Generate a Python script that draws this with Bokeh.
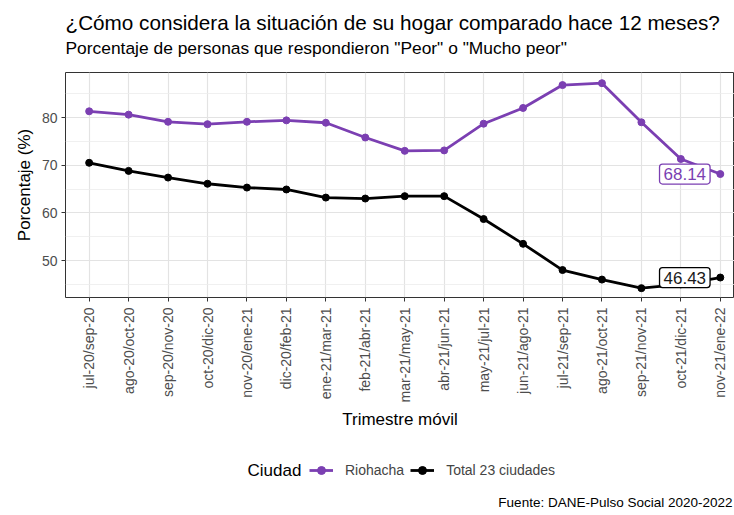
from bokeh.plotting import figure
from bokeh.models import (Label, Legend, LegendItem, FixedTicker, Range1d,
                          ColumnDataSource)
from bokeh.layouts import column
from bokeh.embed import file_html
from bokeh.resources import INLINE
import math

categorias = ["jul-20/sep-20", "ago-20/oct-20", "sep-20/nov-20", "oct-20/dic-20",
              "nov-20/ene-21", "dic-20/feb-21", "ene-21/mar-21", "feb-21/abr-21",
              "mar-21/may-21", "abr-21/jun-21", "may-21/jul-21", "jun-21/ago-21",
              "jul-21/sep-21", "ago-21/oct-21", "sep-21/nov-21", "oct-21/dic-21",
              "nov-21/ene-22"]
riohacha = [81.3, 80.6, 79.1, 78.6, 79.1, 79.4, 78.9, 75.8, 73.0, 73.1,
            78.7, 82.0, 86.8, 87.2, 79.0, 71.3, 68.14]
total23 = [70.5, 68.8, 67.4, 66.1, 65.3, 64.9, 63.2, 63.0, 63.5, 63.5,
           58.7, 53.5, 48.0, 46.0, 44.2, 45.0, 46.43]
series = ["Riohacha", "Total 23 ciudades"]
y_ticks = [50, 60, 70, 80]
y_minor = [45, 55, 65, 75, 85]

PURPLE = "#7B3FB2"
BLACK = "#000000"
FONT = "Liberation Sans"

xs = list(range(len(categorias)))


def strip(h):
    f = figure(width=734, height=h, output_backend="svg", toolbar_location=None,
               x_range=Range1d(65, 734), y_range=Range1d(0, h),
               x_axis_type=None, y_axis_type=None, min_border=0,
               min_border_left=65)
    f.outline_line_color = None
    f.background_fill_color = "white"
    f.border_fill_color = "white"
    return f


# top strip: title + subtitle
top = strip(60)
top.add_layout(Label(x=65, y=38, text="¿Cómo considera la situación de su hogar comparado hace 12 meses?",
                     text_font=FONT, text_font_size="20.7px", text_baseline="middle",
                     text_color="#000000"))
top.add_layout(Label(x=65, y=13, text='Porcentaje de personas que respondieron "Peor" o "Mucho peor"',
                     text_font=FONT, text_font_size="17.4px", text_baseline="middle",
                     text_color="#000000"))

# main plot
p = figure(width=734, height=385, output_backend="svg", toolbar_location=None,
           x_range=Range1d(-0.6, 16.36), y_range=Range1d(42.24, 89.44),
           min_border_left=65, min_border_right=0, min_border_top=12,
           min_border_bottom=148, title=None)
p.background_fill_color = "white"
p.border_fill_color = "white"
p.outline_line_color = "#333333"
p.outline_line_width = 1

p.xgrid.ticker = FixedTicker(ticks=xs)
p.xgrid.grid_line_color = "#E3E3E3"
p.xgrid.grid_line_width = 1.2
p.ygrid.ticker = FixedTicker(ticks=y_ticks, minor_ticks=y_minor)
p.ygrid.grid_line_color = "#E3E3E3"
p.ygrid.grid_line_width = 1.2
p.ygrid.minor_grid_line_color = "#ECECEC"
p.ygrid.minor_grid_line_width = 0.8

p.xaxis.ticker = FixedTicker(ticks=xs)
p.xaxis.major_label_overrides = {i: c for i, c in enumerate(categorias)}
p.xaxis.major_label_orientation = math.pi / 2
p.yaxis.ticker = FixedTicker(ticks=y_ticks, minor_ticks=[])
for ax in (p.xaxis, p.yaxis):
    ax.axis_line_color = None
    ax.major_tick_line_color = "#333333"
    ax.major_tick_out = 4
    ax.major_tick_in = 0
    ax.minor_tick_line_color = None
    ax.major_label_text_color = "#4D4D4D"
    ax.major_label_text_font = FONT
    ax.major_label_text_font_size = "14px"
    ax.axis_label_text_font = FONT
    ax.axis_label_text_font_style = "normal"
    ax.axis_label_text_color = "#000000"
    ax.axis_label_text_font_size = "17px"
p.xaxis.major_label_standoff = 6
p.yaxis.major_label_standoff = 4
p.xaxis.axis_label = "Trimestre móvil"
p.yaxis.axis_label = "Porcentaje (%)"
p.xaxis.axis_label_standoff = 5
p.yaxis.axis_label_standoff = 5

src_r = ColumnDataSource(dict(x=xs, y=riohacha))
src_t = ColumnDataSource(dict(x=xs, y=total23))
p.line("x", "y", source=src_r, line_color=PURPLE, line_width=2.8)
p.scatter("x", "y", source=src_r, size=7, color=PURPLE)
p.line("x", "y", source=src_t, line_color=BLACK, line_width=2.8)
p.scatter("x", "y", source=src_t, size=7, color=BLACK)

for val, col in ((riohacha[-1], PURPLE), (total23[-1], BLACK)):
    p.add_layout(Label(x=xs[-1] - 0.9, y=val, text=f"{val:.2f}",
                       text_align="center", text_baseline="middle",
                       text_font=FONT, text_font_size="17px",
                       text_color=col if col != BLACK else "#1A1A1A",
                       background_fill_color="white", border_line_color=col,
                       border_line_width=1.3, padding=4, border_radius=3))

# bottom strip: legend + caption
q = strip(70)
# legend proxies share the series sources; their points fall outside this strip's ranges
lr = q.line("x", "y", source=src_r, line_color=PURPLE, line_width=2.8)
sr = q.scatter("x", "y", source=src_r, size=7, color=PURPLE)
lt = q.line("x", "y", source=src_t, line_color=BLACK, line_width=2.8)
st = q.scatter("x", "y", source=src_t, size=7, color=BLACK)
legend = Legend(items=[LegendItem(label=series[0], renderers=[lr, sr]),
                       LegendItem(label=series[1], renderers=[lt, st])],
                orientation="horizontal", location=(244, 35),
                background_fill_alpha=0, border_line_color=None,
                label_text_font=FONT, label_text_font_size="14px",
                glyph_width=24, glyph_height=20, label_standoff=12, spacing=6,
                padding=0, margin=0, label_height=20)
q.add_layout(legend, "center")
q.add_layout(Label(x=247, y=45, text="Ciudad", text_font=FONT,
                   text_font_size="17px", text_baseline="middle",
                   text_color="#000000"))
q.add_layout(Label(x=732, y=13, text="Fuente: DANE-Pulso Social 2020-2022",
                   text_font=FONT, text_font_size="13.5px", text_align="right",
                   text_baseline="middle", text_color="#000000"))

layout = column(top, p, q, spacing=0)
open("out.html", "w").write(file_html(layout, INLINE))
